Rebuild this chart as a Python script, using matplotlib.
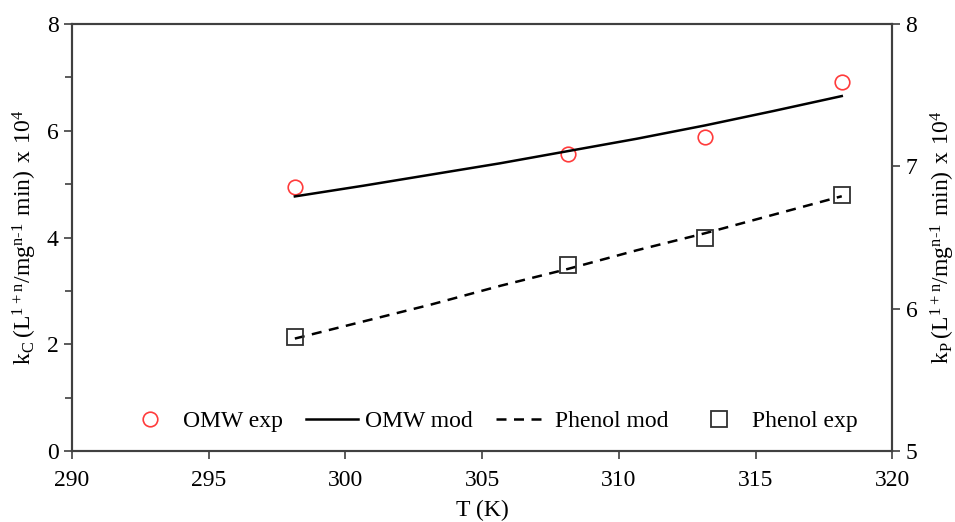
import numpy as np
import matplotlib.pyplot as plt

plt.rcParams['font.family'] = ['Liberation Serif', 'DejaVu Serif']
plt.rcParams['mathtext.fontset'] = 'custom'
plt.rcParams['mathtext.rm'] = 'Liberation Serif'

# experimental temperatures (K)
T_exp = [298.15, 308.15, 313.15, 318.15]
omw_exp = [4.94, 5.56, 5.88, 6.91]      # left axis
phenol_exp = [5.80, 6.31, 6.50, 6.80]   # right axis

# model curves
T_mod = [298.15, 300.65, 303.15, 305.65, 308.15, 310.65, 313.15, 315.65, 318.15]
omw_mod = [4.77, 4.97, 5.18, 5.39, 5.62, 5.85, 6.10, 6.37, 6.65]
phenol_mod = [5.79, 5.91, 6.03, 6.16, 6.28, 6.41, 6.53, 6.66, 6.79]

fig = plt.figure(figsize=(9.55, 5.22), dpi=100)
ax = fig.add_axes([0.0754, 0.136, 0.859, 0.818])
ax2 = ax.twinx()

spine_col = '#404040'
fs = 17

h1, = ax.plot(T_exp, omw_exp, 'o', mfc='none', mec='#ff3b3b', ms=10.5, mew=1.2, label='OMW exp')
h2, = ax.plot(T_mod, omw_mod, '-', color='black', lw=1.8, label='OMW mod')
h3, = ax2.plot(T_mod, phenol_mod, '--', color='black', lw=1.8, dashes=(4, 3), label='Phenol mod')
h4, = ax2.plot(T_exp, phenol_exp, 's', mfc='none', mec='#303030', ms=12, mew=1.3, label='Phenol exp')

ax.set_xlim(290, 320)
ax.set_ylim(0, 8)
ax2.set_ylim(5, 8)
ax.set_xticks(np.arange(290, 321, 5))
ax.set_yticks([0, 2, 4, 6, 8])
ax.set_yticks([1, 3, 5, 7], minor=True)
ax2.set_yticks([5, 6, 7, 8])

for a in (ax, ax2):
    for s in a.spines.values():
        s.set_color(spine_col)
        s.set_linewidth(1.5)
    a.tick_params(direction='out', length=6, width=1.2, color=spine_col, labelsize=fs)
    a.tick_params(which='minor', direction='out', length=5, width=1.2, color=spine_col)
ax.tick_params(axis='x', pad=8)

ax.set_xlabel('T (K)', fontsize=fs, labelpad=6)
ax.set_ylabel(r'$\mathregular{k_C\,(L^{1+n}/mg^{n\text{-}1}\ min)\ x\ 10^4}$', fontsize=fs, labelpad=6)
ax2.set_ylabel(r'$\mathregular{k_P\,(L^{1+n}/mg^{n\text{-}1}\ min)\ x\ 10^4}$', fontsize=fs, labelpad=8)

ax.legend(handles=[h1, h2, h3, h4], loc='lower center', bbox_to_anchor=(0.51, -0.005),
          ncol=4, frameon=False, fontsize=fs, handlelength=2.2, columnspacing=1.0,
          handletextpad=0.3)

fig.savefig('out.png', dpi=100)
